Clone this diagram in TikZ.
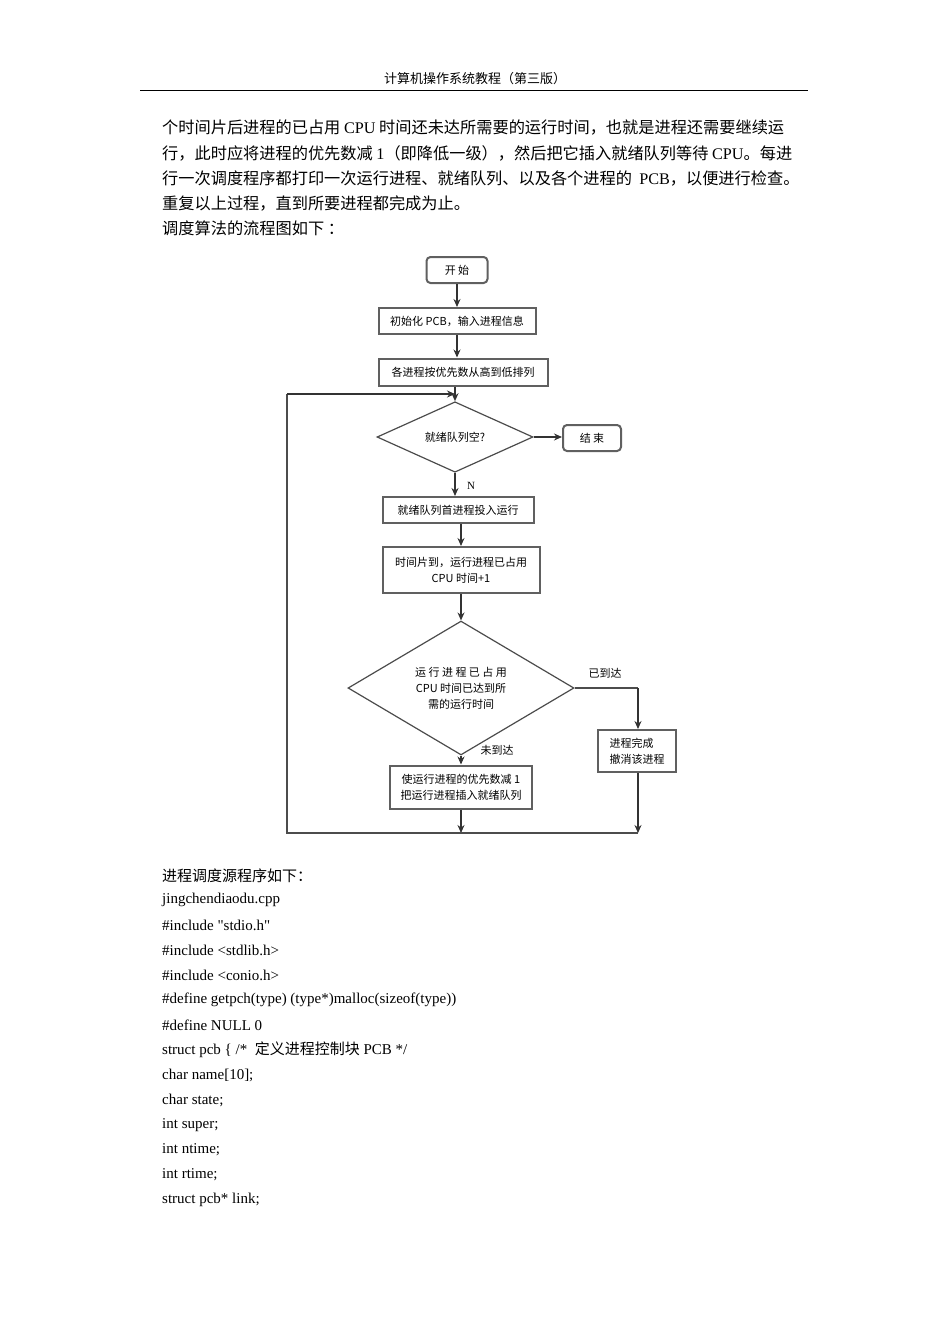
\documentclass[tikz,border=0pt]{standalone}
\usepackage{fontspec}
\setmainfont{Liberation Serif}[Ligatures=TeXOff]
\newfontfamily\cjk{Noto Sans CJK SC}
\usetikzlibrary{shapes.geometric,arrows.meta}
\begin{document}
\begin{tikzpicture}[x=1pt,y=-1pt,
  txt/.style={anchor=west,inner sep=0,font=\fontsize{16.2}{18}\selectfont\cjk},
  code/.style={anchor=west,inner sep=0,font=\fontsize{15}{18}\selectfont},
  fbox/.style={draw=gray!75!black,line width=2pt,fill=white,inner sep=2pt,align=center,font=\fontsize{11}{16}\selectfont\cjk},
  rbox/.style={fbox,rounded corners=4pt},
  dia/.style={diamond,draw=gray!60!black,line width=1.2pt,fill=white,inner sep=0pt,align=center,font=\fontsize{11}{16}\selectfont\cjk},
  arr/.style={-{Stealth[length=8pt,width=7pt]},line width=2pt,draw=black!80},
  arrt/.style={arr,line width=1.2pt},
  ln/.style={line width=1.5pt,draw=black!70},
  lab/.style={inner sep=0,font=\fontsize{11}{13}\selectfont\cjk}]
\useasboundingbox[fill=white] (0,0) rectangle (950,1344);
% header
\node[inner sep=0,font=\fontsize{13}{15}\selectfont\cjk] (hdr) at (475,79) {计算机操作系统教程（第三版）};
\draw[line width=0.8pt] (140,90) coordinate (h1) -- (808,90) coordinate (h2);
% paragraph
\node[txt] (p1) at (162,128) {个时间片后进程的已占用 {\rmfamily CPU} 时间还未达所需要的运行时间，也就是进程还需要继续运};
\node[txt] (p2) at (162,153) {行，此时应将进程的优先数减 {\rmfamily 1}（即降低一级），然后把它插入就绪队列等待 {\rmfamily CPU}。每进};
\node[txt] (p3) at (162,178) {行一次调度程序都打印一次运行进程、就绪队列、以及各个进程的 \ {\rmfamily PCB}，以便进行检查。};
\node[txt] (p4) at (162,203) {重复以上过程，直到所要进程都完成为止。};
\node[txt] (p5) at (162,228) {调度算法的流程图如下 ：};
% flowchart
\node[rbox,minimum width=61,minimum height=26] (start) at (457,270) {开 始};
\node[fbox,minimum width=157,minimum height=26] (b1) at (457,321) {初始化 PCB，输入进程信息};
\node[fbox,minimum width=169,minimum height=27] (b2) at (463,372) {各进程按优先数从高到低排列};
\node[dia,minimum width=156,minimum height=52] (d1) at (455,437) {就绪队列空?};
\node[rbox,minimum width=58,minimum height=26] (end) at (592,438) {结 束};
\node[fbox,minimum width=151,minimum height=26] (b3) at (458,510) {就绪队列首进程投入运行};
\node[fbox,minimum width=157,minimum height=46] (b4) at (461,570) {时间片到，运行进程已占用\\CPU 时间+1};
\node[dia,minimum width=226,minimum height=104] (d2) at (461,688) {运 行 进 程 已 占 用\\CPU 时间已达到所\\需的运行时间};
\node[fbox,minimum width=78,minimum height=42,align=left] (b5) at (637,751) {进程完成\\撤消该进程};
\node[fbox,minimum width=142,minimum height=43] (b6) at (461,787) {使运行进程的优先数减 1\\把运行进程插入就绪队列};
\node[lab] (lN) at (471,486) {\rmfamily N};
\node[lab] (l1) at (605,673) {已到达};
\node[lab] (l2) at (497,750) {未到达};
\coordinate (j1) at (455,394);
\coordinate (tl) at (287,394);
\coordinate (bl) at (287,833);
\coordinate (bm) at (461,833);
\coordinate (br) at (638,833);
\coordinate (rc) at (638,688);
\draw[arr] (start) -- (b1);
\draw[arr] (b1.south -| start) -- (b2.north -| start);
\draw[arr] (b2.south -| d1) -- (d1.north);
\draw[arr] (d1.east) -- (end.west |- d1);
\draw[arr] (d1.south) -- (b3.north -| d1);
\draw[arrt] (b3.south -| b4) -- (b4);
\draw[arrt] (b4) -- (d2);
\draw[arrt] (d2.south) -- (b6);
\draw[ln] (d2.east) -- (rc);
\draw[arrt] (rc) -- (b5.north -| rc);
\draw[arrt] (b6.south) -- (bm);
\draw[arrt] (b5.south -| br) -- (br);
\draw[ln] (br) -- (bl) -- (tl);
\draw[arr,line width=1.5pt] (tl) -- (j1);
% code
\node[txt,font=\fontsize{15}{18}\selectfont\cjk] (c0) at (162,876) {进程调度源程序如下：};
\node[code] (c1) at (162,900) {jingchendiaodu.cpp};
\node[code] (c2) at (162,925) {\#include "stdio.h"};
\node[code] (c3) at (162,950) {\#include <stdlib.h>};
\node[code] (c4) at (162,975) {\#include <conio.h>};
\node[code] (c5) at (162,1000) {\#define getpch(type) (type*)malloc(sizeof(type))};
\node[code] (c6) at (162,1025) {\#define NULL 0};
\node[code] (c7) at (162,1050) {struct pcb \{ /* \ {\cjk 定义进程控制块} PCB */};
\node[code] (c8) at (162,1075) {char name[10];};
\node[code] (c9) at (162,1100) {char state;};
\node[code] (c10) at (162,1125) {int super;};
\node[code] (c11) at (162,1150) {int ntime;};
\node[code] (c12) at (162,1175) {int rtime;};
\node[code] (c13) at (162,1200) {struct pcb* link;};
\end{tikzpicture}
\end{document}
